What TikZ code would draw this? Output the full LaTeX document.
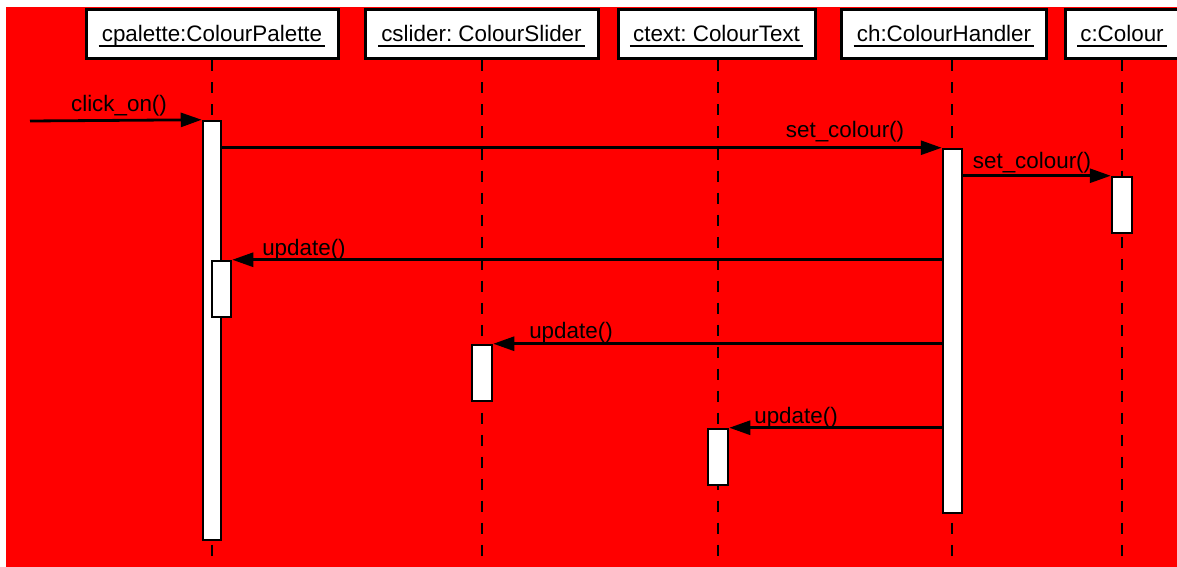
\documentclass[tikz,border=0pt]{standalone}
\usepackage{fontspec}
\setmainfont{Liberation Sans}
\usetikzlibrary{arrows.meta}
\definecolor{bgred}{RGB}{255,0,0}
\frenchspacing
\begin{document}
\begin{tikzpicture}[x=1pt,y=-1pt,
  hdr/.style={draw=black, fill=white, line width=3pt, rectangle, inner sep=0pt},
  txt/.style={inner sep=0pt, anchor=base, font=\fontsize{22.4}{26}\selectfont},
  uline/.style={line width=1.5pt},
  life/.style={line width=2pt, dash pattern=on 11pt off 11pt},
  act/.style={draw=black, fill=white, line width=2.5pt, rectangle, inner sep=0pt},
  msg/.style={line width=2.8pt, -{Triangle[length=21pt,width=14pt]}}
]
\useasboundingbox (0,0) rectangle (1177,567);
\fill[white] (0,0) rectangle (1177,567);
\fill[bgred] (6,7) rectangle (1177,567);

% header boxes
\node[hdr, minimum width=252pt, minimum height=49pt] (cp) at (212,34.5) {};
\node[hdr, minimum width=233pt, minimum height=49pt] (cs) at (481.5,34.5) {};
\node[hdr, minimum width=197pt, minimum height=49pt] (ct) at (716.5,34.5) {};
\node[hdr, minimum width=205pt, minimum height=49pt] (ch) at (943.5,34.5) {};
\node[hdr, minimum width=114pt, minimum height=49pt] (cc) at (1122,34.5) {};

\node[txt] (cpt) at (212,42) {cpalette:ColourPalette};
\node[txt] (cst) at (481.5,42) {cslider: ColourSlider};
\node[txt] (ctt) at (716.5,42) {ctext: ColourText};
\node[txt] (cht) at (944,42) {ch:ColourHandler};
\node[txt] (cct) at (1122,42) {c:Colour};
\foreach \n in {cpt,cst,ctt,cht,cct}
  \draw[uline] ([shift={(-3,4)}]\n.base west) -- ([shift={(3,4)}]\n.base east);

% lifeline ends
\coordinate (cpe) at (212,565);
\coordinate (cse) at (482,565);
\coordinate (cte) at (718,565);
\coordinate (che) at (952,565);
\coordinate (cce) at (1122,565);
\draw[life] (cpe |- cp.south) -- (cpe);
\draw[life] (cse |- cs.south) -- (cse);
\draw[life] (cte |- ct.south) -- (cte);
\draw[life] (che |- ch.south) -- (che);
\draw[life] (cce |- cc.south) -- (cce);

% activations
\node[act, minimum width=18pt, minimum height=419pt] (a1) at (212,330.5) {};
\node[act, minimum width=19pt, minimum height=364pt] (a2) at (952.5,331) {};
\node[act, minimum width=20pt, minimum height=56pt] (a3) at (1122,205) {};
\node[act, minimum width=19pt, minimum height=56pt] (a4) at (221.5,289) {};
\node[act, minimum width=20pt, minimum height=56pt] (a5) at (482,373) {};
\node[act, minimum width=20pt, minimum height=56pt] (a6) at (718,457) {};

% messages
\coordinate (start) at (30,121);
\draw[msg] (start) -- (a1.north west);
\draw[msg] (a1.east |- a2.north) -- (a2.north west);
\draw[msg] (a2.east |- a3.north) -- (a3.north west);
\draw[msg] (a2.west |- a4.north) -- (a4.north east);
\draw[msg] (a2.west |- a5.north) -- (a5.north east);
\draw[msg] (a2.west |- a6.north) -- (a6.north east);

% message labels
\node[txt] (l1) at (119,112) {click\_on()};
\node[txt] (l2) at (845,138) {set\_colour()};
\node[txt] (l3) at (1032,168) {set\_colour()};
\node[txt] (l4) at (304,255) {update()};
\node[txt] (l5) at (571,338) {update()};
\node[txt] (l6) at (796,423) {update()};
\end{tikzpicture}
\end{document}
